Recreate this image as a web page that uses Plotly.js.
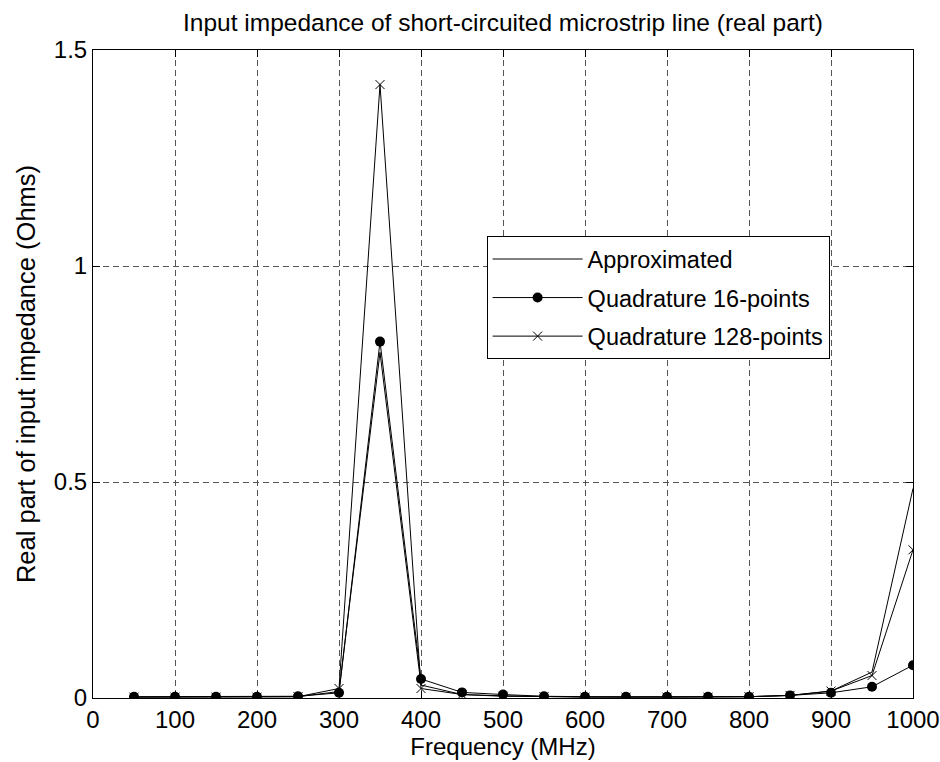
<!DOCTYPE html>
<html><head><meta charset="utf-8">
<script src="https://cdn.plot.ly/plotly-3.0.1.min.js"></script>
<style>html,body{margin:0;padding:0;background:#fff;}#chart{width:940px;height:762px;}</style>
</head><body><div id="chart"></div>
<script>
const freq = [50,100,150,200,250,300,350,400,450,500,550,600,650,700,750,800,850,900,950,1000];
const approximated = [0.002,0.002,0.002,0.002,0.003,0.015,0.80,0.03,0.008,0.005,0.003,0.002,0.002,0.002,0.002,0.003,0.006,0.016,0.06,0.485];
const quad16 = [0.003,0.003,0.003,0.003,0.004,0.012,0.825,0.044,0.013,0.008,0.004,0.003,0.003,0.003,0.003,0.003,0.006,0.012,0.026,0.076];
const quad128 = [0.002,0.002,0.002,0.002,0.003,0.022,1.42,0.022,0.008,0.004,0.003,0.002,0.002,0.002,0.002,0.003,0.006,0.016,0.052,0.343];
const xTicks = [0,100,200,300,400,500,600,700,800,900,1000];
const yTicks = [0,0.5,1,1.5];
const yTickText = ['0','0.5','1','1.5'];

const traces = [
  {x:freq,y:approximated,name:'Approximated',legendgroup:'a',mode:'lines',line:{color:'#000',width:1}},
  {x:freq,y:quad16,name:'Quadrature 16-points',legendgroup:'b',mode:'lines+markers',line:{color:'#000',width:1},marker:{symbol:'circle',size:10,color:'#000'}},
  {x:freq,y:quad128,name:'Quadrature 128-points',legendgroup:'c',mode:'lines+markers',line:{color:'#000',width:1},marker:{symbol:'x-thin',size:9,line:{color:'#000',width:1}}}
];
const FONT = 'Liberation Sans, Arial, sans-serif';
const axisCommon = {showline:true,linecolor:'#000',linewidth:1,mirror:'ticks',ticks:'inside',ticklen:7,tickcolor:'#000',
  showgrid:true,gridcolor:'#555',griddash:'6px,4px',gridwidth:1,zeroline:false,
  tickfont:{family:FONT,size:24,color:'#000'}};
const layout = {
  width:940,height:762,
  margin:{l:93,r:27,t:50,b:64},
  paper_bgcolor:'#fff',plot_bgcolor:'#fff',
  font:{family:FONT,color:'#000'},
  title:{text:'Input impedance of short-circuited microstrip line (real part)',font:{size:24.5,color:'#000'},xref:'paper',x:0.5,xanchor:'center',yref:'container',y:0.97,yanchor:'middle'},
  xaxis:Object.assign({},axisCommon,{range:[0,1000],tickvals:xTicks,ticktext:xTicks.map(String),title:{text:'Frequency (MHz)',font:{size:24},standoff:0}}),
  yaxis:Object.assign({},axisCommon,{range:[0,1.5],tickvals:yTicks,ticktext:yTickText,title:{text:'Real part of input impedance (Ohms)',font:{size:25.5},standoff:10}}),
  showlegend:true,
  legend:{x:0.48,y:0.7126,xanchor:'left',yanchor:'top',bgcolor:'#fff',bordercolor:'#000',borderwidth:1,
    font:{size:23.5,color:'#000'},tracegroupgap:5,itemwidth:90}
};
Plotly.newPlot('chart',traces,layout,{displayModeBar:false,staticPlot:true});
</script></body></html>
